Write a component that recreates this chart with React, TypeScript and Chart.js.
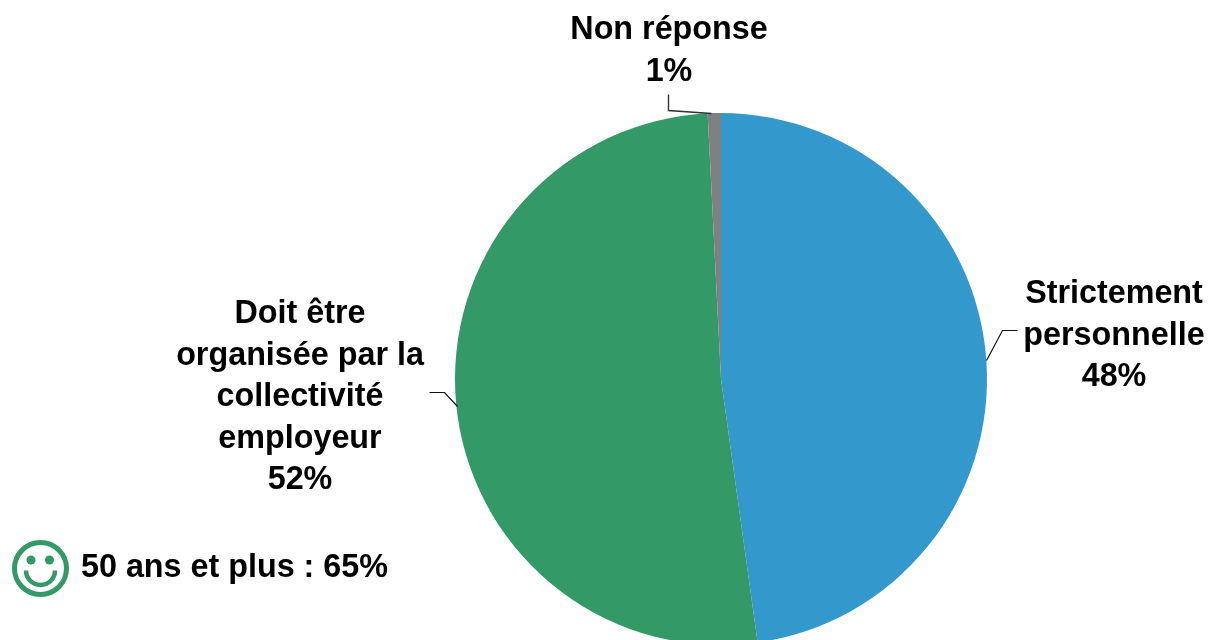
import React, { useEffect, useRef } from "react";
import { Chart, registerables } from "chart.js";

Chart.register(...registerables);

const categories = ["Strictement personnelle", "Doit être organisée par la collectivité employeur", "Non réponse"];
const seriesValues = [47.8, 51.4, 0.8];
const sliceColors = ["#3399CC", "#339966", "#808080"];
const labelLines = [
  ["Strictement", "personnelle", "48%"],
  ["Doit être", "organisée par la", "collectivité", "employeur", "52%"],
  ["Non réponse", "1%"],
];
const noteText = "50 ans et plus : 65%";

const FONT = 'bold 32.3px "Liberation Sans", Arial, sans-serif';
const LINE_H = 41.6;

const overlay = {
  id: "overlay",
  afterDraw(chart: any) {
    const c = chart.ctx;
    c.save();
    c.fillStyle = "#000";
    c.font = FONT;
    c.textAlign = "center";
    c.textBaseline = "middle";
    const blocks: [number, number][] = [[1114, 294], [300, 314], [669, 30]];
    labelLines.forEach((lines, i) => {
      lines.forEach((t, j) => c.fillText(t, blocks[i][0], blocks[i][1] + j * LINE_H));
    });
    c.textAlign = "left";
    c.fillText(noteText, 81, 568);

    const leaders: [number, number][][] = [
      [[986, 360], [1002, 330], [1017, 330]],
      [[429, 392], [444, 392], [457, 406]],
      [[668, 94], [668, 110], [711, 113]],
    ];
    leaders.forEach((pts, i) => {
      c.lineWidth = i === 2 ? 1.4 : 1.2;
      c.strokeStyle = i === 2 ? "#333" : "#111";
      c.beginPath();
      pts.forEach(([x, y], k) => (k ? c.lineTo(x + 0.5, y + 0.5) : c.moveTo(x + 0.5, y + 0.5)));
      c.stroke();
    });

    c.strokeStyle = "#339966";
    c.fillStyle = "#339966";
    c.lineWidth = 5;
    c.beginPath();
    c.arc(40.5, 568.5, 26, 0, Math.PI * 2);
    c.stroke();
    [31, 49.5].forEach((x) => {
      c.beginPath();
      c.arc(x, 560, 4.5, 0, Math.PI * 2);
      c.fill();
    });
    c.lineWidth = 4.5;
    c.beginPath();
    c.arc(40.5, 570.5, 14.5, 0, Math.PI);
    c.stroke();
    c.restore();
  },
};

export default function App() {
  const ref = useRef<HTMLCanvasElement>(null);
  useEffect(() => {
    document.body.style.margin = "0";
    const chart = new Chart(ref.current!, {
      type: "pie",
      data: {
        labels: categories,
        datasets: [{ data: seriesValues, backgroundColor: sliceColors, borderWidth: 0 }],
      },
      options: {
        responsive: false,
        animation: false,
        layout: { padding: { left: 455, right: 221, top: 113, bottom: 5 } },
        plugins: { legend: { display: false }, tooltip: { enabled: false } },
      },
      plugins: [overlay],
    });
    return () => chart.destroy();
  }, []);
  return (
    <div style={{ width: 1208, height: 640, overflow: "hidden", background: "#fff" }}>
      <canvas ref={ref} width={1208} height={650} style={{ display: "block" }} />
    </div>
  );
}
